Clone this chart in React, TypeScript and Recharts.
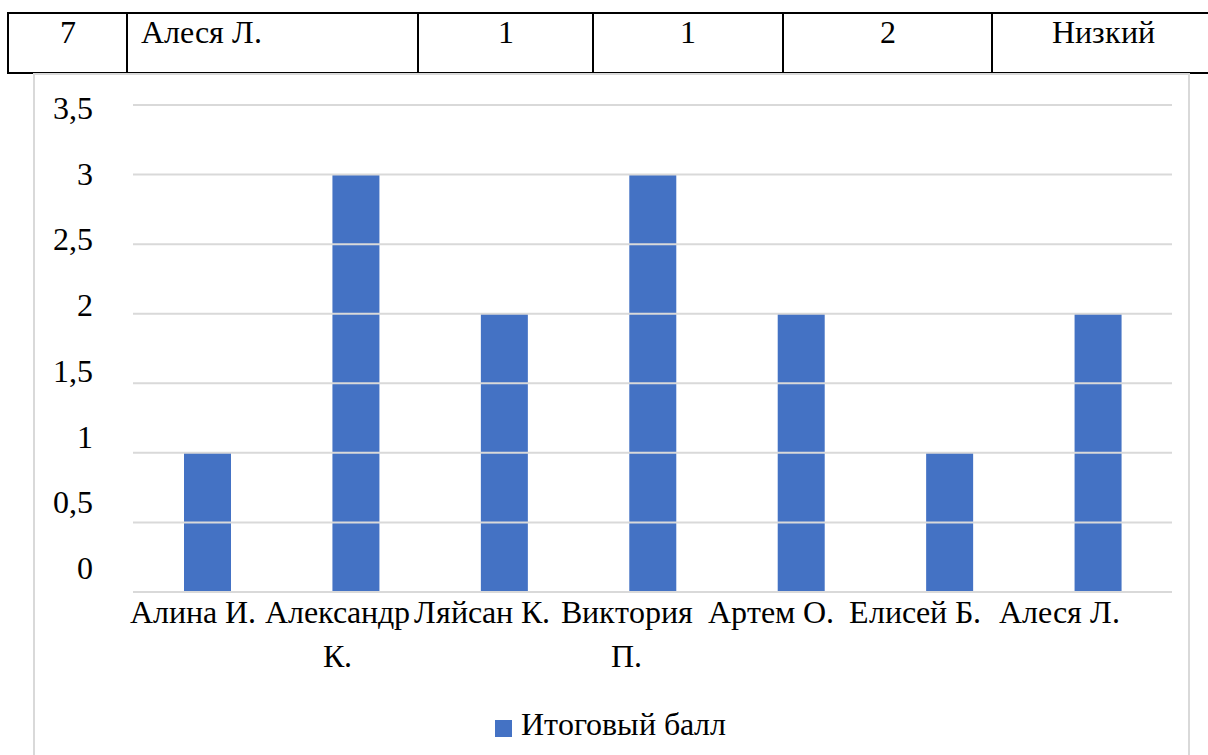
import React from 'react';
import {
  BarChart,
  Bar,
  XAxis,
  YAxis,
  ReferenceLine,
  Legend,
} from 'recharts';

const FONT = 'SerifLocal, "Liberation Serif", "Times New Roman", serif';
const FS = 32;

// table row above the chart
const rowCells = ['7', 'Алеся Л.', '1', '1', '2', 'Низкий'];
const rowWidths = [119, 291, 175, 190, 209, 222];
const rowAlign = ['center', 'left', 'center', 'center', 'center', 'center'];

// chart data
const students = [
  'Алина И.',
  'Александр К.',
  'Ляйсан К.',
  'Виктория П.',
  'Артем О.',
  'Елисей Б.',
  'Алеся Л.',
];
const scores = [1, 3, 2, 3, 2, 1, 2];
const yTicks = [0, 0.5, 1, 1.5, 2, 2.5, 3, 3.5];
const seriesName = 'Итоговый балл';

const data = students.map((name, i) => ({ name, score: scores[i] }));

const fmt = (v: number) => String(v).replace('.', ',');

const fontCss = `
@font-face { font-family: 'SerifLocal'; src: local('Liberation Serif'), local('LiberationSerif'), local('Liberation Serif Regular'), local('LiberationSerif-Regular'); }
`;

let ctx: CanvasRenderingContext2D | null = null;
function measure(s: string) {
  if (!ctx) ctx = document.createElement('canvas').getContext('2d');
  if (!ctx) return s.length * FS * 0.5;
  ctx.font = `${FS}px ${FONT}`;
  return ctx.measureText(s).width;
}

function wrap(label: string, maxW: number) {
  const words = label.split(' ');
  const lines: string[] = [];
  let cur = '';
  words.forEach((w) => {
    const next = cur ? cur + ' ' + w : w;
    if (cur && measure(next) > maxW) {
      lines.push(cur);
      cur = w;
    } else {
      cur = next;
    }
  });
  if (cur) lines.push(cur);
  return lines;
}

// labels in the original sit slightly left of their bars, more so to the right
function XTick(props: any) {
  const { x, y, payload, index } = props;
  const lines = wrap(String(payload.value), 150);
  const tx = x - 14 - 4 * index;
  return (
    <text x={tx} y={y} textAnchor="middle" fill="#000" style={{ fontFamily: FONT, fontSize: FS }}>
      {lines.map((l, i) => (
        <tspan key={i} x={tx} dy={i === 0 ? 23 : 44}>
          {l}
        </tspan>
      ))}
    </text>
  );
}

function YTick(props: any) {
  const { x, y, payload } = props;
  const v = payload.value as number;
  return (
    <text
      x={x}
      y={y}
      dy={-24 + 7.7 * v}
      textAnchor="end"
      dominantBaseline="central"
      fill="#000"
      style={{ fontFamily: FONT, fontSize: FS }}
    >
      {fmt(v)}
    </text>
  );
}

function LegendContent() {
  return (
    <div
      style={{
        height: 56,
        display: 'flex',
        justifyContent: 'center',
        alignItems: 'flex-start',
        paddingTop: 6,
        boxSizing: 'border-box',
        fontFamily: FONT,
        fontSize: FS,
        lineHeight: '38px',
        color: '#000',
      }}
    >
      <span
        style={{
          display: 'inline-block',
          width: 17,
          height: 17,
          background: '#4472C4',
          marginTop: 15,
          marginRight: 9,
          marginLeft: 14,
        }}
      />
      <span>{seriesName}</span>
    </div>
  );
}

export default function App() {
  return (
    <div
      style={{
        position: 'absolute',
        left: 0,
        top: 0,
        width: 1208,
        height: 755,
        overflow: 'hidden',
        background: '#fff',
        fontFamily: FONT,
      }}
    >
      <style>{fontCss}</style>
      <div
        style={{
          position: 'absolute',
          left: 7,
          top: 12,
          width: 1240,
          height: 62,
          borderTop: '2px solid #000',
          borderBottom: '2px solid #000',
          boxSizing: 'border-box',
          display: 'flex',
          fontSize: FS,
          color: '#000',
        }}
      >
        {rowCells.map((c, i) => (
          <div
            key={i}
            style={{
              width: rowWidths[i],
              flexShrink: 0,
              borderLeft: '2px solid #000',
              boxSizing: 'border-box',
              textAlign: rowAlign[i] as any,
              paddingLeft: rowAlign[i] === 'left' ? 13 : 0,
              lineHeight: '37px',
              whiteSpace: 'nowrap',
            }}
          >
            {c}
          </div>
        ))}
      </div>

      <div
        style={{
          position: 'absolute',
          left: 33,
          top: 73,
          width: 1157,
          height: 700,
          border: '2px solid #d9d9d9',
          boxSizing: 'border-box',
          background: '#fff',
        }}
      >
        <BarChart
          width={1153}
          height={680}
          data={data}
          margin={{ top: 30, right: 16, left: 0, bottom: 0 }}
        >
          <XAxis
            dataKey="name"
            tick={<XTick />}
            tickLine={false}
            axisLine={false}
            interval={0}
            height={107}
          />
          <YAxis
            domain={[0, 3.5]}
            ticks={yTicks}
            tick={<YTick />}
            tickLine={false}
            axisLine={false}
            tickMargin={34}
            width={98}
          />
          <Bar
            dataKey="score"
            name={seriesName}
            fill="#4472C4"
            barSize={47}
            isAnimationActive={false}
          />
          {yTicks.map((t) => (
            <ReferenceLine key={t} y={t} stroke="#d9d9d9" strokeWidth={2} />
          ))}
          <Legend verticalAlign="bottom" content={<LegendContent />} />
        </BarChart>
      </div>
    </div>
  );
}
